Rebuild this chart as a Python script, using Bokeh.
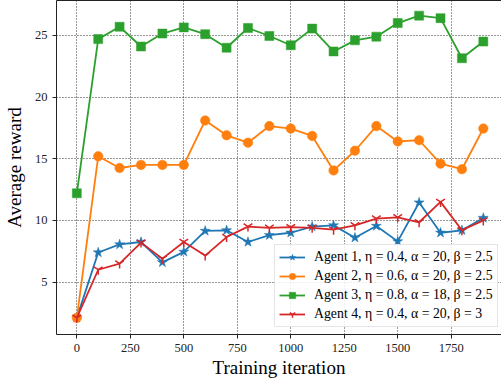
from bokeh.plotting import figure
from bokeh.models import (Range1d, FixedTicker, LinearAxis, Legend, LegendItem,
                          ColumnDataSource)
from bokeh.embed import file_html
from bokeh.resources import INLINE

iterations = [0, 100, 200, 300, 400, 500, 600, 700, 800, 900,
              1000, 1100, 1200, 1300, 1400, 1500, 1600, 1700, 1800, 1900]
agent1 = [2.1, 7.4, 8.05, 8.25, 6.6, 7.45, 9.15, 9.2, 8.25, 8.8,
          9.0, 9.5, 9.6, 8.6, 9.55, 8.3, 11.45, 9.0, 9.2, 10.2]
agent2 = [2.1, 15.2, 14.25, 14.5, 14.5, 14.5, 18.1, 16.9, 16.3, 17.65,
          17.45, 16.85, 14.05, 15.65, 17.65, 16.4, 16.5, 14.6, 14.15, 17.45]
agent3 = [12.2, 24.7, 25.7, 24.1, 25.15, 25.65, 25.1, 24.0, 25.6, 24.95,
          24.2, 25.55, 23.7, 24.6, 24.9, 26.0, 26.6, 26.4, 23.15, 24.5]
agent4 = [2.1, 6.0, 6.5, 8.2, 6.9, 8.25, 7.15, 8.65, 9.5, 9.4,
          9.45, 9.4, 9.25, 9.6, 10.15, 10.25, 9.85, 11.5, 9.2, 10.0]
labels = ["Agent 1, \u03b7 = 0.4, \u03b1 = 20, \u03b2 = 2.5",
          "Agent 2, \u03b7 = 0.6, \u03b1 = 20, \u03b2 = 2.5",
          "Agent 3, \u03b7 = 0.8, \u03b1 = 18, \u03b2 = 2.5",
          "Agent 4, \u03b7 = 0.4, \u03b1 = 20, \u03b2 = 3"]
x_ticks = [0, 250, 500, 750, 1000, 1250, 1500, 1750]
y_ticks = [5, 10, 15, 20, 25]

FONT = "Liberation Serif"
TICK_FONT = "'Liberation Serif', serif"

p = figure(frame_width=445, frame_height=334, output_backend="svg",
           toolbar_location=None, x_range=Range1d(-95, 1985),
           y_range=Range1d(0.75, 27.83), min_border_left=47,
           min_border_right=0, min_border_top=0, min_border_bottom=10)
p.outline_line_color = None
p.background_fill_color = "white"
p.border_fill_color = "white"

for ax in (p.xaxis[0], p.yaxis[0]):
    ax.axis_line_color = "#222222"
    ax.axis_line_width = 1
    ax.major_tick_line_color = "#222222"
    ax.major_tick_out = 4
    ax.major_tick_in = 0
    ax.minor_tick_line_color = None
    ax.major_label_text_font = TICK_FONT
    ax.major_label_text_font_size = "12.5px"
    ax.major_label_text_font_style = "normal"
    ax.major_label_text_color = "#222222"
    ax.axis_label_text_font = FONT
    ax.axis_label_text_font_size = "19px"
    ax.axis_label_text_font_style = "normal"
    ax.axis_label_text_color = "black"

p.xaxis[0].ticker = FixedTicker(ticks=x_ticks)
p.yaxis[0].ticker = FixedTicker(ticks=y_ticks)
p.xaxis[0].axis_label = "Training iteration"
p.yaxis[0].axis_label = "Average reward"
p.xaxis[0].major_label_standoff = 5
p.xaxis[0].axis_label_standoff = 2
p.yaxis[0].major_label_standoff = 5
p.yaxis[0].axis_label_standoff = 7

top = LinearAxis(ticker=FixedTicker(ticks=[]), major_tick_out=0, major_tick_in=0,
                 minor_tick_out=0, minor_tick_in=0, major_label_standoff=0,
                 major_label_text_font_size="0px", axis_line_color="#222222",
                 axis_line_width=1)
p.add_layout(top, "above")

for g in (p.xgrid[0], p.ygrid[0]):
    g.grid_line_color = "black"
    g.grid_line_dash = "1 2"
    g.grid_line_width = 1
    g.grid_line_alpha = 0.8
p.xgrid[0].ticker = FixedTicker(ticks=x_ticks)
p.ygrid[0].ticker = FixedTicker(ticks=y_ticks)

series = [
    (agent1, "#1f77b4", "star", 10.5),
    (agent2, "#ff7f0e", "circle", 9.5),
    (agent3, "#2ca02c", "square", 9),
    (agent4, "#d62728", "y", 10),
]
items = []
for (vals, color, marker, size), lab in zip(series, labels):
    src = ColumnDataSource(dict(x=iterations, y=vals))
    lr = p.line("x", "y", source=src, line_color=color, line_width=1.8)
    if marker == "y":
        sr = p.scatter("x", "y", source=src, marker=marker, size=size,
                       line_color=color, line_width=1.5, fill_color=color)
    else:
        sr = p.scatter("x", "y", source=src, marker=marker, size=size,
                       line_color=color, fill_color=color, line_width=0.5)
    items.append(LegendItem(label=lab, renderers=[lr, sr]))

legend = Legend(items=items, location=(218, 7))
legend.label_text_font = FONT
legend.label_text_font_size = "13.8px"
legend.label_text_color = "black"
legend.glyph_width = 26
legend.glyph_height = 16
legend.label_height = 16
legend.label_standoff = 9
legend.spacing = 3
legend.padding = 4
legend.margin = 0
legend.border_line_color = "#cccccc"
legend.border_line_width = 1
legend.background_fill_color = "white"
legend.background_fill_alpha = 0.85
p.add_layout(legend, "center")

open("out.html", "w").write(file_html(p, INLINE))
